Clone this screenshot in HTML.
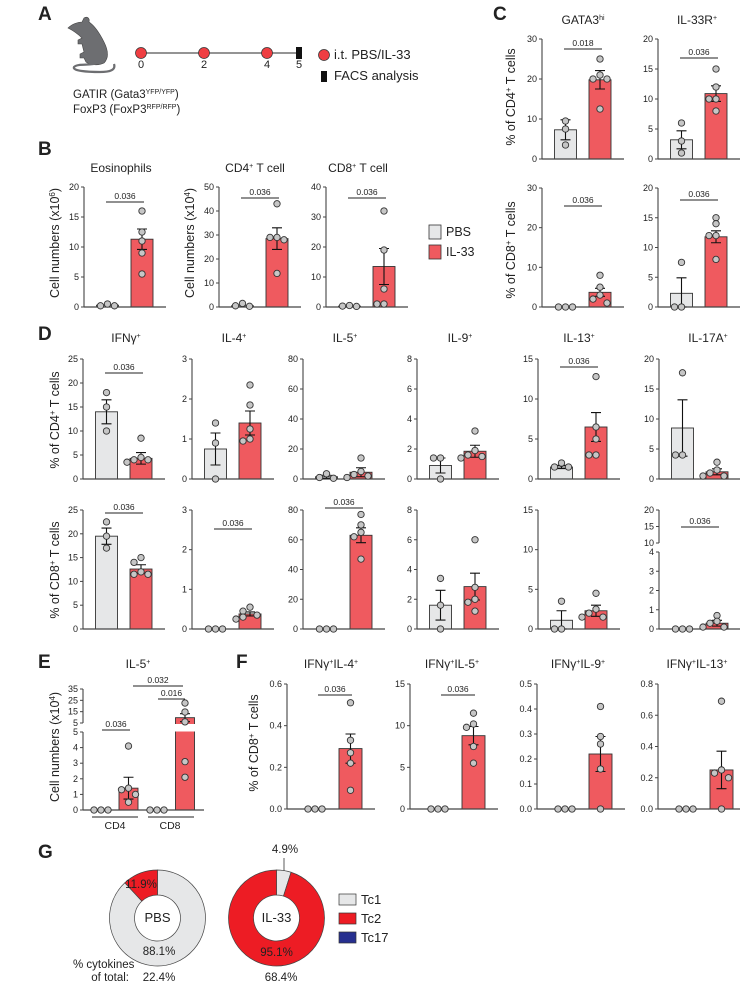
<!DOCTYPE html>
<html><head><meta charset="utf-8">
<style>
html,body{margin:0;padding:0;background:#fff;}
svg{display:block;font-family:"Liberation Sans",sans-serif;}
text{fill:#222;}
.lbl{font-weight:bold;font-size:19px;}
.ttl{font-size:12px;}
.ax{font-size:12.5px;}
</style></head>
<body>
<svg id="fig" width="740" height="1000" viewBox="0 0 740 1000" xmlns="http://www.w3.org/2000/svg">
<!-- Panel A -->
<g>
<text class="lbl" x="38" y="20">A</text>
<path fill="#6d6e71" stroke="#444" stroke-width="0.6" d="M68,28 C72,24 78,22 82,22 L84,18 C87,16 90,18 89,22 C95,26 100,34 104,42 C108,50 109,58 104,63 C98,66 90,65 86,62 L84,58 L80,58 L80,54 L84,52 L82,44 L78,44 L78,40 L82,38 C78,34 74,31 68,28 Z"/>
<path fill="none" stroke="#6d6e71" stroke-width="2.2" d="M98,63 C90,66 78,63 74,67 C72,71 88,72 100,72 C110,72 116,70 114,64"/>
<line x1="141" y1="53" x2="299" y2="53" stroke="#555" stroke-width="1.3"/>
<circle cx="141" cy="53" r="5.5" fill="#ef3e42" stroke="#333" stroke-width="0.7"/>
<circle cx="204" cy="53" r="5.5" fill="#ef3e42" stroke="#333" stroke-width="0.7"/>
<circle cx="267" cy="53" r="5.5" fill="#ef3e42" stroke="#333" stroke-width="0.7"/>
<rect x="296" y="47" width="6" height="12" fill="#111"/>
<g font-size="11" text-anchor="middle">
<text x="141" y="68">0</text><text x="204" y="68">2</text><text x="267" y="68">4</text><text x="299" y="68">5</text></g>
<circle cx="324" cy="55" r="5.5" fill="#ef3e42" stroke="#333" stroke-width="0.7"/>
<text x="334" y="59" font-size="13">i.t. PBS/IL-33</text>
<rect x="321" y="71" width="6" height="11" fill="#111"/>
<text x="334" y="80" font-size="13">FACS analysis</text>
<text x="73" y="98" font-size="11.5">GATIR (Gata3<tspan font-size="7" dy="-4">YFP/YFP</tspan><tspan dy="4">)</tspan></text>
<text x="73" y="113" font-size="11.5">FoxP3 (FoxP3<tspan font-size="7" dy="-4">RFP/RFP</tspan><tspan dy="4">)</tspan></text>
</g>
<!-- labels & titles -->
<text class="lbl" x="38" y="155">B</text>
<text class="lbl" x="493" y="20">C</text>
<text class="lbl" x="38" y="340">D</text>
<text class="lbl" x="38" y="668">E</text>
<text class="lbl" x="236" y="668">F</text>
<text class="lbl" x="38" y="858">G</text>
<g class="ttl" text-anchor="middle">
<text x="121" y="172">Eosinophils</text>
<text x="255" y="172">CD4<tspan font-size="7" dy="-4">+</tspan><tspan dy="4"> T cell</tspan></text>
<text x="358" y="172">CD8<tspan font-size="7" dy="-4">+</tspan><tspan dy="4"> T cell</tspan></text>
<text x="583" y="24">GATA3<tspan font-size="7" dy="-4">hi</tspan></text>
<text x="697" y="24">IL-33R<tspan font-size="7" dy="-4">+</tspan></text>
<text x="126" y="342">IFNγ<tspan font-size="7" dy="-4">+</tspan></text>
<text x="234" y="342">IL-4<tspan font-size="7" dy="-4">+</tspan></text>
<text x="345" y="342">IL-5<tspan font-size="7" dy="-4">+</tspan></text>
<text x="460" y="342">IL-9<tspan font-size="7" dy="-4">+</tspan></text>
<text x="579" y="342">IL-13<tspan font-size="7" dy="-4">+</tspan></text>
<text x="708" y="342">IL-17A<tspan font-size="7" dy="-4">+</tspan></text>
<text x="138" y="668">IL-5<tspan font-size="7" dy="-4">+</tspan></text>
<text x="331" y="668">IFNγ<tspan font-size="7" dy="-4">+</tspan><tspan dy="4">IL-4</tspan><tspan font-size="7" dy="-4">+</tspan></text>
<text x="452" y="668">IFNγ<tspan font-size="7" dy="-4">+</tspan><tspan dy="4">IL-5</tspan><tspan font-size="7" dy="-4">+</tspan></text>
<text x="578" y="668">IFNγ<tspan font-size="7" dy="-4">+</tspan><tspan dy="4">IL-9</tspan><tspan font-size="7" dy="-4">+</tspan></text>
<text x="697" y="668">IFNγ<tspan font-size="7" dy="-4">+</tspan><tspan dy="4">IL-13</tspan><tspan font-size="7" dy="-4">+</tspan></text>
</g>
<g class="ax" text-anchor="middle">
<text transform="translate(59,243) rotate(-90)">Cell numbers (x10<tspan font-size="8" dy="-4">6</tspan><tspan dy="4">)</tspan></text>
<text transform="translate(194,243) rotate(-90)">Cell numbers (x10<tspan font-size="8" dy="-4">4</tspan><tspan dy="4">)</tspan></text>
<text transform="translate(515,97) rotate(-90)">% of CD4<tspan font-size="8" dy="-4">+</tspan><tspan dy="4"> T cells</tspan></text>
<text transform="translate(515,250) rotate(-90)">% of CD8<tspan font-size="8" dy="-4">+</tspan><tspan dy="4"> T cells</tspan></text>
<text transform="translate(59,420) rotate(-90)">% of CD4<tspan font-size="8" dy="-4">+</tspan><tspan dy="4"> T cells</tspan></text>
<text transform="translate(59,570) rotate(-90)">% of CD8<tspan font-size="8" dy="-4">+</tspan><tspan dy="4"> T cells</tspan></text>
<text transform="translate(59,747) rotate(-90)">Cell numbers (x10<tspan font-size="8" dy="-4">4</tspan><tspan dy="4">)</tspan></text>
<text transform="translate(258,743) rotate(-90)">% of CD8<tspan font-size="8" dy="-4">+</tspan><tspan dy="4"> T cells</tspan></text>
</g>
<!-- legend B -->
<g>
<rect x="429" y="225" width="12" height="14" fill="#e6e7e8" stroke="#333" stroke-width="0.8"/>
<text x="446" y="236" font-size="12.5">PBS</text>
<rect x="429" y="245" width="12" height="14" fill="#ef5a5f" stroke="#333" stroke-width="0.8"/>
<text x="446" y="256" font-size="12.5">IL-33</text>
</g>
<g id="charts"></g>
<g id="panelE"></g>
<!-- Panel G -->
<g id="donuts"></g>
<g font-size="11.5">
<text x="157.5" y="922" text-anchor="middle" font-size="13">PBS</text>
<text x="276.5" y="922" text-anchor="middle" font-size="13">IL-33</text>
<text x="141" y="888" text-anchor="middle">11.9%</text>
<text x="159" y="955" text-anchor="middle">88.1%</text>
<text x="276.5" y="956" text-anchor="middle">95.1%</text>
<text x="285" y="853" text-anchor="middle">4.9%</text>
<line x1="284" y1="858" x2="284" y2="871" stroke="#333" stroke-width="0.8"/>
<text x="73" y="968">% cytokines</text>
<text x="129" y="981" text-anchor="end">of total:</text>
<text x="159" y="981" text-anchor="middle">22.4%</text>
<text x="281" y="981" text-anchor="middle">68.4%</text>
</g>
<g font-size="13">
<rect x="339" y="894" width="17" height="11" fill="#e6e7e8" stroke="#333" stroke-width="0.7"/>
<text x="361" y="904">Tc1</text>
<rect x="339" y="913" width="17" height="11" fill="#ed1c24" stroke="#333" stroke-width="0.7"/>
<text x="361" y="923">Tc2</text>
<rect x="339" y="932" width="17" height="11" fill="#262f8f" stroke="#333" stroke-width="0.7"/>
<text x="361" y="942">Tc17</text>
</g>
</svg>
<script>
// ---- data: panels B, C, D(top), D(bottom), F ----
const panelNames = ['eosinophils','cd4-t-cell','cd8-t-cell','c-gata3-cd4','c-il33r-cd4','c-gata3-cd8','c-il33r-cd8',
 'd-ifng-cd4','d-il4-cd4','d-il5-cd4','d-il9-cd4','d-il13-cd4','d-il17a-cd4',
 'd-ifng-cd8','d-il4-cd8','d-il5-cd8','d-il9-cd8','d-il13-cd8','d-il17a-cd8',
 'f-ifng-il4','f-ifng-il5','f-ifng-il9','f-ifng-il13'];
const axisMax = [20,50,40,30,20,30,20, 25,3,80,8,15,20, 25,3,80,8,15,20, 0.6,15,0.5,0.8];
const tickStep = [5,10,10,10,5,10,5, 5,1,20,2,5,5, 5,1,20,2,5,5, 0.2,5,0.1,0.2];
const tickDecimals = [0,0,0,0,0,0,0, 0,0,0,0,0,0, 0,0,0,0,0,0, 1,0,1,1];
const pbsMeans = [0.3,0.5,0.3,7.3,3.2,0,2.3, 14,0.75,1.5,0.9,1.5,8.5, 19.5,0,0,1.6,1.1,0, 0,0,0,0];
const pbsSems  = [0,0,0,2.5,1.5,0,2.6, 2.5,0.4,1,0.5,0.2,4.7, 1.7,0,0,1,1.2,0, 0,0,0,0];
const il33Means = [11.3,28.5,13.5,19.8,10.9,3.7,11.8, 4.3,1.4,4.5,1.85,6.5,1.2, 12.6,0.38,63,2.85,2.3,0.3, 0.29,8.8,0.22,0.25];
const il33Sems  = [1.7,4.5,6,2.3,1.3,1,1, 1.2,0.3,3,0.4,1.8,0.5, 0.9,0.05,5,0.9,0.7,0.15, 0.07,1.1,0.07,0.12];
const pbsPoints = [[0.2,0.5,0.2],[0.3,1.5,0.5],[0.2,0.5,0.3],[9.5,7.5,3.5],[6,3,1],[0,0,0],[7.5,0,0],
 [18,15,10],[1.4,0.9,0],[3.5,1,0.5],[1.4,1.4,0],[2,1.5,1.5],[17.7,4,4],
 [22.5,19.5,17],[0,0,0],[0,0,0],[3.4,1.6,0],[3.5,0,0],[0,0,0],
 [0,0,0],[0,0,0],[0,0,0],[0,0,0]];
const il33Points = [[16,12.5,11,9,5.5],[43,29,29,28,14],[32,19,6,1,1],[25,21,20,20,12.5],[15,12,10,10,8],[8,5,3,2,1],[15,14,12,12,8],
 [8.5,4.5,4,4,3.5],[2.35,1.85,1.25,1.0,0.95],[14,5,3,2,1],[3.2,1.9,1.6,1.5,1.4],[12.8,6.5,5,3,3],[2.8,1.5,1,0.5,0.5],
 [15,14,12,11.5,11.5],[0.55,0.45,0.35,0.3,0.25],[77,70,65,62,47],[6,2.8,2,1.8,1.2],[4.5,2.5,2,1.5,1.5],[0.7,0.4,0.3,0.1,0.1],
 [0.51,0.33,0.27,0.22,0.09],[11.5,10.2,9.8,7.5,5.5],[0.41,0.29,0.26,0.16,0],[0.69,0.25,0.23,0.2,0]];
const sigLabels = ['0.036','0.036','0.036','0.018','0.036','0.036','0.036',
 '0.036','','','','0.036','', '0.036','0.036','0.036','','','0.036', '0.036','0.036','',''];
// broken y-axis for IL-17A CD8: value segments
const brokenSegValues = [[0,4],[10,20]];
const brokenTicks = [[0,1,2,3,4],[10,15,20]];
// ---- panel E data ----
const eGroups = ['cd4-pbs','cd4-il33','cd8-pbs','cd8-il33'];
const eMeans = [0,1.4,0,9.7];
const eSems = [0,0.7,0,3.5];
const ePoints = [[0,0,0],[4.1,1.4,1.3,1.0,0.5],[0,0,0],[22.6,14.7,6,3.1,2.1]];
const eSegValues = [[0,5],[5,35]];
const eTicks = [[0,1,2,3,4,5],[5,15,25,35]];
const eSigLabels = ['0.036','0.016','0.032'];
// ---- panel G data ----
const donutGroups = ['pbs','il33'];
const tc1Shares = [88.1,4.9];
const tc2Shares = [11.9,95.1];
const tc17Shares = [0,0];

// ---- layout (pixels, not data) ----
const Dx = [83,192,303,417,538,659], Fx=[287,410,537,658];
const layout = [
 [84,187,307,'s',202],[219,187,307,'s',198],[326,187,307,'s',198],
 [542,39,159,'s',49],[658,39,159,'s',58],[542,188,307,'s',206],[658,188,307,'s',200]
];
const dTopSig=[373,0,0,0,367,0], dBotSig=[513,529,508,0,0,527];
Dx.forEach((x,i)=>layout.push([x,359,479,'s',dTopSig[i]]));
Dx.forEach((x,i)=>layout.push([x,510,629,i===5?'b':'s',dBotSig[i]]));
Fx.forEach((x,i)=>layout.push([x,684,809,'f',i<2?695:0]));

const NS='http://www.w3.org/2000/svg';
function mk(tag, attrs, parent){const e=document.createElementNS(NS,tag);for(const k in attrs)e.setAttribute(k,attrs[k]);parent.appendChild(e);return e;}
const STROKE='#333', PBSC='#e6e7e8', REDC='#ef5a5f', PTC='#c6c6c6';

function makeScale(segs){ // segs: [v0,v1,y0,y1]
 return v=>{for(let i=0;i<segs.length;i++){const s=segs[i];if(v<=s[1]||i===segs.length-1)return s[2]+(v-s[0])/(s[1]-s[0])*(s[3]-s[2]);}};
}
function drawPoints(g, vals, cx, y, name){
 const placed=[];
 const sorted=vals.slice().sort((a,b)=>b-a);
 sorted.forEach(v=>{
  const py=y(v);
  const near=placed.filter(p=>Math.abs(p.y-py)<5.5);
  let off=0;
  if(near.length){const opts=[-7,7,-14,14,0];for(const o of opts){if(!near.some(p=>Math.abs(p.x-(cx+o))<6.5)){off=o;break;}}}
  placed.push({x:cx+off,y:py});
  const c=mk('circle',{cx:cx+off,cy:py,r:3.2,fill:PTC,stroke:STROKE,'stroke-width':0.9},g);
  
  
 });
}
function drawErr(g, cx, mean, sem, y, name){
 if(sem<=0) return;
 const lo=Math.max(0,mean-sem), hi=mean+sem;
 const p=mk('path',{d:`M${cx},${y(lo)}V${y(hi)}M${cx-5},${y(hi)}H${cx+5}M${cx-5},${y(lo)}H${cx+5}`,stroke:'#111','stroke-width':1.1,fill:'none'},g);
 
 
}
function drawBar(g, cx, w, mean, y, y0, fill, name){
 if(mean<=0) return;
 const r=mk('rect',{x:cx-w/2,y:y(mean),width:w,height:y0-y(mean),fill:fill,stroke:STROKE,'stroke-width':0.9},g);
 
 
}
function fmt(v,d){return d?v.toFixed(d):String(Math.round(v));}
function drawTicks(g, x0, ticks, y, d){
 ticks.forEach(t=>{
  const ty=y(t);
  const l=mk('line',{x1:x0-3,y1:ty,x2:x0,y2:ty,stroke:'#444','stroke-width':1},g);
  
  
  const tx=mk('text',{x:x0-5,y:ty+3,'font-size':9,'text-anchor':'end'},g);
  tx.textContent=fmt(t,d);
  
  
 });
}
function drawSig(g, x1, x2, sy, label){
 const l=mk('line',{x1:x1,y1:sy,x2:x2,y2:sy,stroke:'#222','stroke-width':1},g);
 
 
 const t=mk('text',{x:(x1+x2)/2,y:sy-3,'font-size':8.5,'text-anchor':'middle'},g);
 t.textContent=label;
 
 
}

const root=document.getElementById('charts');
panelNames.forEach((nm,i)=>{
 const [x0,yT,yB,kind,sigY]=layout[i];
 const g=mk('g',{},root);
 
 
 let segs, tickSets;
 if(kind==='b'){
  const pix=[[yB,552],[543,yT]];
  segs=brokenSegValues.map((s,k)=>[s[0],s[1],pix[k][0],pix[k][1]]);
  tickSets=brokenTicks;
 } else {
  segs=[[0,axisMax[i],yB,yT]];
  const tk=[];for(let v=0;v<=axisMax[i]+1e-9;v+=tickStep[i])tk.push(Math.round(v*1000)/1000);
  tickSets=[tk];
 }
 const y=makeScale(segs);
 segs.forEach(s=>{
  const a=mk('line',{x1:x0,y1:s[2],x2:x0,y2:s[3],stroke:'#444','stroke-width':1.1},g);
  
  
 });
 tickSets.forEach(ts=>drawTicks(g,x0,ts,y,tickDecimals[i]));
 const f=kind==='f';
 const pc=x0+(f?28:23.5), ic=x0+(f?63.5:58), bw=f?23:22, end=x0+(f?88:82);
 drawBar(g,pc,bw,pbsMeans[i],y,yB,PBSC,'pbs');
 drawBar(g,ic,bw,il33Means[i],y,yB,REDC,'il33');
 const xa=mk('line',{x1:x0,y1:yB,x2:end,y2:yB,stroke:'#444','stroke-width':1.2},g);
 
 
 drawErr(g,pc,pbsMeans[i],pbsSems[i],y,'pbs');
 drawErr(g,ic,il33Means[i],il33Sems[i],y,'il33');
 drawPoints(g,pbsPoints[i],pc,y,'pbs');
 drawPoints(g,il33Points[i],ic,y,'il33');
 if(sigLabels[i]) drawSig(g, f?x0+31:x0+22, f?x0+65:x0+60, sigY, sigLabels[i]);
});

// ---- Panel E ----
(function(){
 const g=document.getElementById('panelE');
 const x0=83, pix=[[810,732],[723,689]];
 const segs=eSegValues.map((s,k)=>[s[0],s[1],pix[k][0],pix[k][1]]);
 const y=makeScale(segs);
 segs.forEach(s=>{
  const a=mk('line',{x1:x0,y1:s[2],x2:x0,y2:s[3],stroke:'#444','stroke-width':1.1},g);
  
  
 });
 drawTicks(g,x0,eTicks[0],makeScale([segs[0]]),0);
 drawTicks(g,x0,eTicks[1],makeScale([segs[1]]),0);
 const centers=[101,128.5,157,185];
 eGroups.forEach((nm,k)=>{
  drawBar(g,centers[k],19,eMeans[k],y,810,k%2?REDC:PBSC,'e-'+nm);
 });
 const gap=mk('rect',{x:150,y:724,width:60,height:7.5,fill:'#fff'},g);
 
 
 const xa=mk('line',{x1:x0,y1:810,x2:204,y2:810,stroke:'#444','stroke-width':1.2},g);
 
 
 eGroups.forEach((nm,k)=>{
  drawErr(g,centers[k],eMeans[k],eSems[k],y,'e-'+nm);
  drawPoints(g,ePoints[k],centers[k],y,'e-'+nm);
 });
 drawSig(g,102,130,730,eSigLabels[0]);
 drawSig(g,158,185,699,eSigLabels[1]);
 drawSig(g,133,183,686,eSigLabels[2]);
 [[92,138,'CD4',115],[148,194,'CD8',170]].forEach(a=>{
  const l=mk('line',{x1:a[0],y1:817,x2:a[1],y2:817,stroke:'#222','stroke-width':1},g);
  
  
  const t=mk('text',{x:a[3],y:829,'font-size':10.5,'text-anchor':'middle'},g);
  t.textContent=a[2];
  
  
 });
})();

// ---- Panel G donuts ----
(function(){
 const g=document.getElementById('donuts');
 const centers=[[157.5,918],[276.5,918]], R=48, r=23;
 const colors=['#e6e7e8','#ed1c24','#262f8f'], names=['tc1','tc2','tc17'];
 donutGroups.forEach((nm,k)=>{
  const shares=[tc1Shares[k],tc2Shares[k],tc17Shares[k]];
  const tot=shares.reduce((a,b)=>a+b,0);
  let a0=-Math.PI/2;
  const [cx,cy]=centers[k];
  shares.forEach((s,j)=>{
   if(s<=0) return;
   const a1=a0+s/tot*2*Math.PI, large=(a1-a0)>Math.PI?1:0;
   const P=(rad,a)=>[cx+rad*Math.cos(a),cy+rad*Math.sin(a)];
   const [x1,y1]=P(R,a0),[x2,y2]=P(R,a1),[x3,y3]=P(r,a1),[x4,y4]=P(r,a0);
   const p=mk('path',{d:`M${x1},${y1}A${R},${R} 0 ${large} 1 ${x2},${y2}L${x3},${y3}A${r},${r} 0 ${large} 0 ${x4},${y4}Z`,fill:colors[j],stroke:'#444','stroke-width':0.7},g);
   
   
   a0=a1;
  });
 });
})();
</script>
</body></html>
